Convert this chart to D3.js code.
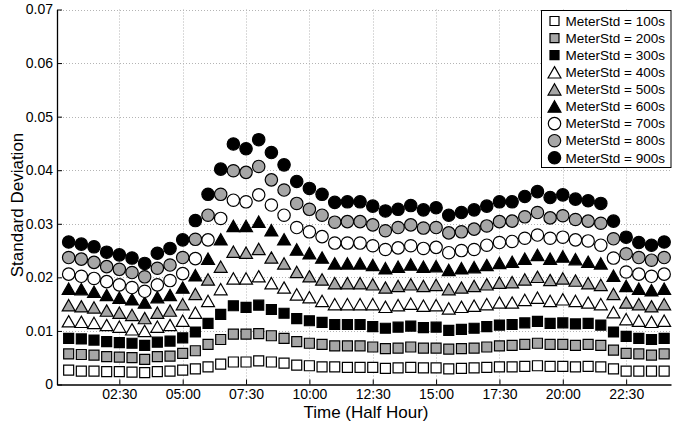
<!DOCTYPE html>
<html>
<head>
<meta charset="utf-8">
<script src="https://cdn.jsdelivr.net/npm/d3@7"></script>
<style>
  html, body { margin: 0; padding: 0; background: #fff; }
  svg { display: block; font-family: 'Liberation Sans', Arial, sans-serif; }
</style>
</head>
<body>
<div id="chart"></div>
<script>
// x = half-hour slot (1 = 00:30 ... 48 = 24:00)
const tickSlots = [5, 10, 15, 20, 25, 30, 35, 40, 45];
const tickLabels = ['02:30', '05:00', '07:30', '10:00', '12:30', '15:00', '17:30', '20:00', '22:30'];
const yTicks = [0, 0.01, 0.02, 0.03, 0.04, 0.05, 0.06, 0.07];
const yTickLabels = ['0', '0.01', '0.02', '0.03', '0.04', '0.05', '0.06', '0.07'];
const seriesNames = ['MeterStd = 100s', 'MeterStd = 200s', 'MeterStd = 300s',
  'MeterStd = 400s', 'MeterStd = 500s', 'MeterStd = 600s',
  'MeterStd = 700s', 'MeterStd = 800s', 'MeterStd = 900s'];

const std100 = [0.0027,0.0025,0.0025,0.0024,0.0024,0.0023,0.0022,0.0024,0.0025,0.0027,0.0029,0.0033,0.0038,0.0042,0.0042,0.0044,0.0042,0.0040,0.0036,0.0035,0.0033,0.0033,0.0032,0.0032,0.0032,0.0030,0.0031,0.0032,0.0031,0.0031,0.0029,0.0030,0.0031,0.0032,0.0033,0.0033,0.0034,0.0035,0.0034,0.0034,0.0033,0.0034,0.0033,0.0029,0.0025,0.0025,0.0025,0.0025];
const std200 = [0.0057,0.0056,0.0055,0.0052,0.0051,0.0050,0.0047,0.0052,0.0053,0.0058,0.0063,0.0075,0.0084,0.0094,0.0094,0.0095,0.0091,0.0086,0.0080,0.0077,0.0075,0.0072,0.0072,0.0072,0.0070,0.0067,0.0068,0.0070,0.0068,0.0068,0.0066,0.0067,0.0068,0.0070,0.0072,0.0073,0.0075,0.0077,0.0075,0.0075,0.0073,0.0075,0.0073,0.0064,0.0058,0.0057,0.0055,0.0057];
const std300 = [0.0086,0.0085,0.0083,0.0080,0.0078,0.0077,0.0073,0.0079,0.0081,0.0087,0.0098,0.0114,0.0131,0.0147,0.0144,0.0148,0.0140,0.0133,0.0123,0.0119,0.0116,0.0112,0.0112,0.0112,0.0108,0.0105,0.0107,0.0109,0.0106,0.0107,0.0101,0.0103,0.0105,0.0108,0.0111,0.0112,0.0115,0.0118,0.0114,0.0115,0.0113,0.0114,0.0111,0.0098,0.0090,0.0086,0.0084,0.0086];
const std400 = [0.0118,0.0117,0.0115,0.0111,0.0108,0.0103,0.0100,0.0108,0.0111,0.0119,0.0134,0.0156,0.0178,0.0198,0.0198,0.0202,0.0189,0.0181,0.0168,0.0163,0.0156,0.0150,0.0150,0.0150,0.0150,0.0145,0.0148,0.0151,0.0147,0.0148,0.0142,0.0145,0.0147,0.0150,0.0153,0.0153,0.0158,0.0162,0.0156,0.0159,0.0156,0.0153,0.0150,0.0135,0.0122,0.0119,0.0117,0.0119];
const std500 = [0.0148,0.0146,0.0144,0.0138,0.0134,0.0130,0.0124,0.0134,0.0138,0.0150,0.0169,0.0196,0.0220,0.0248,0.0246,0.0253,0.0237,0.0226,0.0210,0.0202,0.0196,0.0189,0.0189,0.0189,0.0187,0.0181,0.0184,0.0187,0.0184,0.0186,0.0178,0.0181,0.0184,0.0187,0.0190,0.0191,0.0196,0.0201,0.0195,0.0198,0.0194,0.0189,0.0186,0.0169,0.0153,0.0150,0.0146,0.0150];
const std600 = [0.0179,0.0178,0.0173,0.0167,0.0162,0.0159,0.0153,0.0163,0.0167,0.0181,0.0204,0.0235,0.0271,0.0296,0.0296,0.0304,0.0288,0.0271,0.0252,0.0245,0.0237,0.0226,0.0226,0.0226,0.0223,0.0217,0.0220,0.0224,0.0220,0.0221,0.0214,0.0217,0.0219,0.0223,0.0227,0.0229,0.0235,0.0242,0.0235,0.0239,0.0234,0.0229,0.0226,0.0203,0.0184,0.0179,0.0176,0.0179];
const std700 = [0.0206,0.0202,0.0198,0.0192,0.0186,0.0181,0.0174,0.0186,0.0194,0.0207,0.0235,0.0270,0.0310,0.0344,0.0341,0.0354,0.0335,0.0316,0.0293,0.0285,0.0276,0.0264,0.0264,0.0264,0.0259,0.0252,0.0255,0.0259,0.0254,0.0256,0.0246,0.0250,0.0252,0.0260,0.0265,0.0267,0.0273,0.0279,0.0273,0.0275,0.0270,0.0268,0.0260,0.0236,0.0210,0.0206,0.0202,0.0206];
const std800 = [0.0237,0.0234,0.0228,0.0220,0.0215,0.0209,0.0201,0.0217,0.0223,0.0237,0.0271,0.0316,0.0355,0.0399,0.0396,0.0407,0.0382,0.0363,0.0338,0.0327,0.0316,0.0303,0.0304,0.0304,0.0298,0.0287,0.0293,0.0298,0.0292,0.0293,0.0283,0.0285,0.0290,0.0296,0.0304,0.0305,0.0313,0.0321,0.0311,0.0315,0.0308,0.0305,0.0301,0.0272,0.0244,0.0237,0.0232,0.0237];
const std900 = [0.0266,0.0262,0.0257,0.0247,0.0242,0.0236,0.0226,0.0245,0.0254,0.0270,0.0306,0.0355,0.0402,0.0449,0.0440,0.0457,0.0433,0.0410,0.0379,0.0366,0.0355,0.0340,0.0341,0.0341,0.0333,0.0324,0.0327,0.0334,0.0326,0.0330,0.0316,0.0321,0.0326,0.0333,0.0341,0.0341,0.0351,0.0360,0.0349,0.0354,0.0346,0.0343,0.0338,0.0305,0.0275,0.0265,0.0260,0.0266];

(function () {
  'use strict';

  const W = 673, H = 424;
  const PLOT = { left: 57, right: 671, top: 9.5, bottom: 384.5 };
  const COLORS = {
    white: '#ffffff',
    gray: '#a6a6a6',
    black: '#000000',
    grid: '#b4b4b4'
  };

  // marker per series: shape + fill
  const styles = [
    { shape: 'square', fill: COLORS.white },
    { shape: 'square', fill: COLORS.gray },
    { shape: 'square', fill: COLORS.black },
    { shape: 'triangle', fill: COLORS.white },
    { shape: 'triangle', fill: COLORS.gray },
    { shape: 'triangle', fill: COLORS.black },
    { shape: 'circle', fill: COLORS.white },
    { shape: 'circle', fill: COLORS.gray },
    { shape: 'circle', fill: COLORS.black }
  ];
  const seriesValues = [std100, std200, std300, std400, std500, std600, std700, std800, std900];

  // triangle centred on its bounding box (like matlab '^')
  const triangleBox = {
    draw(ctx, size) {
      const w = Math.sqrt(size) * 1.5, h = w * 0.88;
      ctx.moveTo(0, -h / 2);
      ctx.lineTo(w / 2, h / 2);
      ctx.lineTo(-w / 2, h / 2);
      ctx.closePath();
    }
  };
  const squareSym = {
    draw(ctx, size) {
      const s = Math.sqrt(size);
      ctx.rect(-s / 2, -s / 2, s, s);
    }
  };

  function markerPath(shape) {
    if (shape === 'square') return d3.symbol().type(squareSym).size(10 * 10)();
    if (shape === 'triangle') return d3.symbol().type(triangleBox).size(8.6 * 8.6)();
    return d3.symbol().type(d3.symbolCircle).size(Math.PI * 6.2 * 6.2)();
  }

  const svg = d3.select('#chart').append('svg')
    .attr('width', W)
    .attr('height', H);

  const x = d3.scaleLinear().domain([0.08, 48.54]).range([PLOT.left, PLOT.right]);
  const y = d3.scaleLinear().domain([0, 0.07]).range([PLOT.bottom, PLOT.top]);

  // Сетка
  const grid = svg.append('g').attr('class', 'grid')
    .attr('stroke', COLORS.grid)
    .attr('stroke-width', 1)
    .attr('stroke-dasharray', '1,2');
  grid.selectAll('line.h')
    .data(yTicks.slice(1))
    .join('line')
    .attr('class', 'h')
    .attr('x1', PLOT.left).attr('x2', PLOT.right)
    .attr('y1', d => Math.round(y(d)) + 0.5).attr('y2', d => Math.round(y(d)) + 0.5);
  grid.selectAll('line.v')
    .data(tickSlots)
    .join('line')
    .attr('class', 'v')
    .attr('x1', d => Math.round(x(d)) + 0.5).attr('x2', d => Math.round(x(d)) + 0.5)
    .attr('y1', PLOT.top).attr('y2', PLOT.bottom);

  // Маркеры
  const marks = svg.append('g').attr('class', 'marks');
  seriesValues.forEach((vals, s) => {
    const st = styles[s];
    const p = markerPath(st.shape);
    marks.append('g')
      .selectAll('path')
      .data(vals)
      .join('path')
      .attr('d', p)
      .attr('transform', (d, i) => `translate(${x(i + 1)},${y(d)})`)
      .attr('fill', st.fill)
      .attr('stroke', '#000')
      .attr('stroke-width', 1.2);
  });

  // Оси
  const yAxis = d3.axisLeft(y)
    .tickValues(yTicks)
    .tickFormat((d, i) => yTickLabels[i])
    .tickSizeInner(-5)
    .tickSizeOuter(0)
    .tickPadding(4);
  const gy = svg.append('g')
    .attr('transform', `translate(${PLOT.left},0)`)
    .call(yAxis);

  const xAxis = d3.axisBottom(x)
    .tickValues(tickSlots)
    .tickFormat((d, i) => tickLabels[i])
    .tickSizeInner(-5)
    .tickSizeOuter(0)
    .tickPadding(4.5);
  const gx = svg.append('g')
    .attr('transform', `translate(0,${PLOT.bottom})`)
    .call(xAxis);

  [gx, gy].forEach(g => {
    g.select('.domain').attr('stroke', '#000').attr('stroke-width', 1.3);
    g.selectAll('.tick line').attr('stroke', '#000').attr('stroke-width', 1);
    g.selectAll('.tick text')
      .attr('fill', '#000')
      .style('font-size', '14px')
      .style('font-family', "'Liberation Sans', Arial, sans-serif");
  });

  // Подписи осей
  svg.append('text')
    .attr('x', 366)
    .attr('y', 417.5)
    .attr('text-anchor', 'middle')
    .style('font-size', '17px')
    .text('Time (Half Hour)');

  svg.append('text')
    .attr('transform', 'translate(23,205) rotate(-90)')
    .attr('text-anchor', 'middle')
    .style('font-size', '17px')
    .text('Standard Deviation');

  // Легенда
  const legend = svg.append('g').attr('class', 'legend');
  legend.append('rect')
    .attr('x', 541.5).attr('y', 10.5)
    .attr('width', 129.5).attr('height', 157)
    .attr('fill', '#fff')
    .attr('stroke', '#000')
    .attr('stroke-width', 1);

  const rows = legend.selectAll('g.row')
    .data(seriesNames)
    .join('g')
    .attr('class', 'row')
    .attr('transform', (d, i) => `translate(0,${21 + i * 17.1})`);
  rows.append('path')
    .attr('d', (d, i) => {
      const sh = styles[i].shape;
      if (sh === 'square') return d3.symbol().type(squareSym).size(9 * 9)();
      return markerPath(sh);
    })
    .attr('transform', 'translate(554.5,0)')
    .attr('fill', (d, i) => styles[i].fill)
    .attr('stroke', '#000')
    .attr('stroke-width', 1.2);
  rows.append('text')
    .attr('x', 565.5)
    .attr('dy', '0.35em')
    .style('font-size', '13.5px')
    .text(d => d);
})();
</script>
</body>
</html>
